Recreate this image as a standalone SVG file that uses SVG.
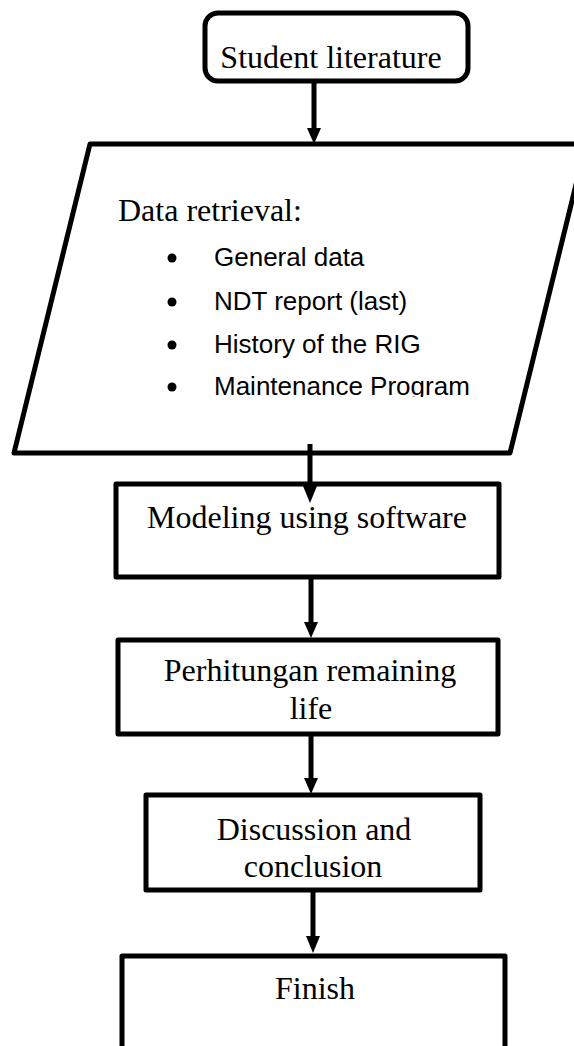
<svg xmlns="http://www.w3.org/2000/svg" width="574" height="1046" viewBox="0 0 574 1046">
  <style>
    .box { fill: #ffffff; stroke: #000000; stroke-width: 5; stroke-linejoin: round; }
    .serif { font-family: "Liberation Serif", "Times New Roman", serif; font-size: 32px; fill: #000000; }
    .sans { font-family: "Liberation Sans", Arial, sans-serif; font-size: 26px; fill: #000000; }
    .link { stroke: #000000; stroke-width: 5; fill: none; }
    .head { fill: #000000; }
  </style>
  <defs>
    <clipPath id="listClip">
      <rect x="0" y="140" width="574" height="257"/>
    </clipPath>
  </defs>

  <rect width="574" height="1046" fill="#ffffff"/>

  <!-- start terminator -->
  <g id="node-student">
    <rect class="box" x="205" y="13" width="263" height="68" rx="13" ry="13"/>
    <text class="serif" x="331" y="68" text-anchor="middle">Student literature</text>
  </g>

  <!-- input/output parallelogram -->
  <g id="node-data">
    <polygon class="box" points="90,144 586,144 510,453 14,453"/>
    <text class="serif" x="118" y="221">Data retrieval:</text>
    <g clip-path="url(#listClip)">
      <circle cx="172" cy="258" r="4.5"/>
      <text class="sans" x="214" y="266">General data</text>
      <circle cx="172" cy="302" r="4.5"/>
      <text class="sans" x="214" y="310">NDT report (last)</text>
      <circle cx="172" cy="345" r="4.5"/>
      <text class="sans" x="214" y="353">History of the RIG</text>
      <circle cx="172" cy="387" r="4.5"/>
      <text class="sans" x="214" y="395">Maintenance  Program</text>
    </g>
  </g>

  <g id="node-modeling">
    <rect class="box" x="116" y="484" width="383" height="93"/>
    <text class="serif" x="307" y="528" text-anchor="middle">Modeling using software</text>
  </g>

  <g id="node-perhitungan">
    <rect class="box" x="118" y="640" width="380" height="94"/>
    <text class="serif" x="310" y="681" text-anchor="middle">Perhitungan remaining</text>
    <text class="serif" x="311" y="719" text-anchor="middle">life</text>
  </g>

  <g id="node-discussion">
    <rect class="box" x="146" y="795" width="334" height="95"/>
    <text class="serif" x="314" y="840" text-anchor="middle">Discussion and</text>
    <text class="serif" x="313" y="877" text-anchor="middle">conclusion</text>
  </g>

  <g id="node-finish">
    <rect class="box" x="122" y="956" width="383" height="120"/>
    <text class="serif" x="315" y="999" text-anchor="middle">Finish</text>
  </g>

  <!-- connectors -->
  <g id="connectors">
    <line class="link" x1="314" y1="83" x2="314" y2="130"/>
    <polygon class="head" points="307,128 321,128 314,144"/>

    <line class="link" x1="310" y1="444" x2="310" y2="488"/>
    <polygon class="head" points="303,486 317,486 310,503"/>

    <line class="link" x1="311" y1="579" x2="311" y2="624"/>
    <polygon class="head" points="304,622 318,622 311,638"/>

    <line class="link" x1="311" y1="736" x2="311" y2="780"/>
    <polygon class="head" points="304,778 318,778 311,794"/>

    <line class="link" x1="313" y1="892" x2="313" y2="938"/>
    <polygon class="head" points="306,936 320,936 313,953"/>
  </g>
</svg>
